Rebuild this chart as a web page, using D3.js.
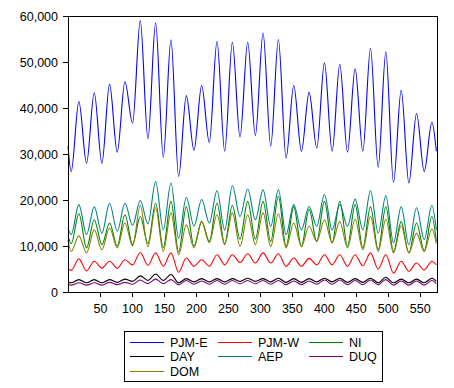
<!DOCTYPE html>
<html>
<head>
<meta charset="utf-8">
<script src="https://cdn.jsdelivr.net/npm/d3@7"></script>
<style>
  body { margin: 0; background: #fff; }
  svg { display: block; font-family: "Liberation Sans", Arial, sans-serif; }
  .axis text { font-size: 12.5px; fill: #000; }
  .axis path, .axis line { stroke: #000; shape-rendering: crispEdges; }
  .series { fill: none; stroke-width: 1.1; }
</style>
</head>
<body>
<script>
// hour index of each reading: start, then daily trough / peak pairs, then end
var hours = [0, 5, 17, 29, 41, 53, 65, 77, 89, 101, 113, 125, 137, 149, 161, 173, 185,
  197, 209, 221, 233, 245, 257, 269, 281, 293, 305, 317, 329, 341, 353, 365, 377,
  389, 401, 413, 425, 437, 449, 461, 473, 485, 497, 509, 521, 533, 545, 557, 569, 576];

var pjmE = [31700, 26200, 41400, 28000, 43300, 28000, 45200, 30400, 45700, 36700, 59000,
  33300, 58500, 29300, 54800, 25100, 42700, 30800, 44900, 32500, 54500, 30600, 54300,
  33700, 54300, 34000, 56300, 31700, 54900, 29100, 44900, 30600, 43400, 31300, 49800,
  30600, 49500, 30400, 48500, 30600, 53000, 27100, 52200, 23800, 43900, 23700, 38800,
  26200, 36900, 30600];

var pjmW = [5000, 4700, 7200, 4600, 6700, 5200, 6700, 5200, 7000, 5900, 8600, 5800, 8500,
  5600, 8500, 4300, 7400, 5600, 7000, 5600, 8100, 5900, 8100, 6400, 8300, 6300, 8500,
  6300, 8300, 5600, 7400, 5600, 7300, 5900, 8100, 5900, 8100, 5600, 8100, 5700, 8500,
  5000, 8100, 4100, 6700, 4500, 6300, 4800, 6700, 5900];

var ni = [12300, 10500, 17000, 9600, 15700, 10300, 15000, 10000, 16800, 10300, 16400,
  10500, 19300, 9600, 19700, 8700, 18500, 10000, 15300, 11000, 19300, 10500, 18800,
  11500, 19700, 11500, 19700, 11000, 20800, 9900, 18500, 9900, 18000, 11000, 19700,
  10700, 19700, 10000, 19000, 9600, 18500, 9200, 18500, 8800, 15300, 8500, 15000,
  9000, 16400, 11000];

var day = [2100, 2000, 2700, 2000, 2700, 2000, 2700, 2100, 2800, 2300, 3500, 2500, 3900,
  2500, 3800, 2000, 2900, 2200, 2900, 2200, 2900, 2200, 2900, 2300, 3000, 2300, 2900,
  2200, 3000, 2100, 2900, 2100, 2900, 2200, 3000, 2200, 3000, 2100, 2900, 2100, 3000,
  2000, 3200, 2000, 2800, 2000, 2800, 2000, 3000, 2300];

var aep = [13900, 12500, 19000, 12500, 18500, 12800, 19300, 13200, 19300, 14500, 19900,
  14800, 24000, 13500, 23700, 11700, 20600, 14300, 20100, 15000, 22000, 13500, 23100,
  16400, 22400, 15700, 22200, 14300, 22200, 12500, 19000, 13500, 18600, 14300, 21200,
  13500, 19000, 14300, 20200, 13500, 22000, 12800, 20900, 10700, 18500, 10300, 18300,
  11400, 18800, 13500];

var duq = [1700, 1500, 2000, 1500, 2000, 1500, 2100, 1600, 2100, 1700, 2600, 1800, 2800,
  1800, 2700, 1600, 2500, 1700, 2400, 1700, 2500, 1700, 2500, 1800, 2500, 1800, 2500,
  1700, 2500, 1600, 2400, 1600, 2400, 1700, 2600, 1700, 2600, 1600, 2500, 1600, 2600,
  1600, 2700, 1500, 2400, 1500, 2400, 1500, 2500, 1800];

var dom = [11200, 8800, 12200, 8500, 13500, 9200, 13900, 9600, 15000, 10000, 18800, 9900,
  18300, 8800, 17200, 8100, 14600, 9600, 15300, 10700, 16800, 10300, 17200, 9900, 16800,
  10300, 17200, 9900, 17000, 9600, 15000, 9900, 14300, 11000, 15700, 10700, 15300, 9600,
  15800, 9200, 16400, 8800, 15800, 8500, 14400, 8500, 12800, 8800, 13700, 10500];

var seriesNames = ["PJM-E", "PJM-W", "NI", "DAY", "AEP", "DUQ", "DOM"];
var seriesValues = [pjmE, pjmW, ni, day, aep, duq, dom];
var seriesColors = ["#0000ff", "#ff0000", "#008000", "#000000", "#008080", "#800080", "#808000"];

var yTicks = [0, 10000, 20000, 30000, 40000, 50000, 60000];
var xTicks = [50, 100, 150, 200, 250, 300, 350, 400, 450, 500, 550];

var width = 454, height = 388;
var svg = d3.select("body").append("svg")
  .attr("width", width).attr("height", height);

var x = d3.scaleLinear().domain([0, 577]).range([68, 437]);
var y = d3.scaleLinear().domain([0, 60000]).range([292, 16]);

// plot frame
svg.append("rect")
  .attr("x", 68.5).attr("y", 16.5)
  .attr("width", 369).attr("height", 276)
  .attr("fill", "none").attr("stroke", "#000")
  .style("shape-rendering", "crispEdges");

var line = d3.line()
  .x(function (d, i) { return x(hours[i]); })
  .y(function (d) { return y(d); })
  .curve(d3.curveMonotoneX);

svg.append("g").selectAll("path")
  .data(seriesValues)
  .join("path")
  .attr("class", "series")
  .attr("stroke", function (d, i) { return seriesColors[i]; })
  .attr("d", line);

svg.append("g").attr("class", "axis")
  .attr("transform", "translate(68,0)")
  .call(d3.axisLeft(y).tickValues(yTicks).tickFormat(d3.format(","))
    .tickSize(5).tickSizeOuter(0).tickPadding(5));

svg.append("g").attr("class", "axis")
  .attr("transform", "translate(0,292)")
  .call(d3.axisBottom(x).tickValues(xTicks).tickFormat(d3.format("d"))
    .tickSize(5).tickSizeOuter(0).tickPadding(7));

// legend
var legend = svg.append("g");
legend.append("rect")
  .attr("x", 124.5).attr("y", 331.5)
  .attr("width", 258).attr("height", 50)
  .attr("fill", "none").attr("stroke", "#000")
  .style("shape-rendering", "crispEdges");

var colX = [130, 218, 309];
var rowY = [342, 356, 371];
var items = legend.selectAll("g.item")
  .data(seriesNames)
  .join("g")
  .attr("class", "item")
  .attr("transform", function (d, i) {
    return "translate(" + colX[i % 3] + "," + rowY[Math.floor(i / 3)] + ")";
  });
items.append("line")
  .attr("x1", 0).attr("x2", 34).attr("y1", 0.5).attr("y2", 0.5)
  .attr("stroke", function (d, i) { return seriesColors[i]; })
  .style("shape-rendering", "crispEdges");
items.append("text")
  .attr("x", 40).attr("y", 4.5)
  .style("font-size", "12.5px")
  .text(function (d) { return d; });
</script>
</body>
</html>
